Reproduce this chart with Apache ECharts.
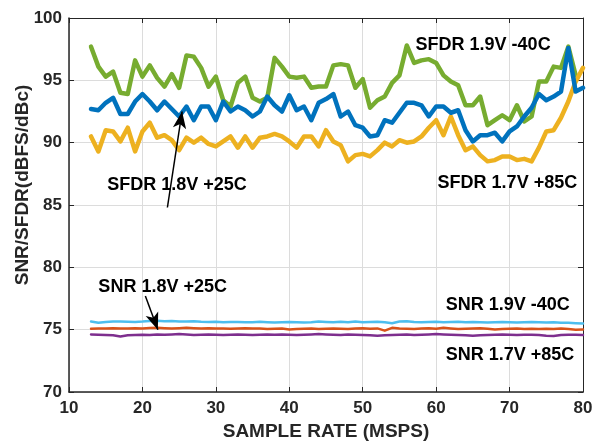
<!DOCTYPE html>
<html>
<head>
<meta charset="utf-8">
<script src="https://cdn.jsdelivr.net/npm/echarts@6/dist/echarts.min.js"></script>
<style>
  html, body { margin:0; padding:0; background:#fff; }
  #chart { width:595px; height:441px; }
</style>
</head>
<body>
<div id="chart"></div>
<script>
// sample rate axis, 13..80 MSPS
const rates = [13,14,15,16,17,18,19,20,21,22,23,24,25,26,27,28,29,30,31,32,33,34,35,36,37,38,39,40,41,42,43,44,45,46,
               47,48,49,50,51,52,53,54,55,56,57,58,59,60,61,62,63,64,65,66,67,68,69,70,71,72,73,74,75,76,77,78,79,80];

// SFDR curves (dBc)
const sfdr19 = [97.7,96.1,95.3,95.7,94.0,93.9,96.6,95.3,96.2,95.2,94.5,95.5,94.4,97.0,96.9,96.0,94.5,95.3,93.4,92.9,94.8,95.3,93.6,93.3,
                93.6,96.8,96.1,95.3,95.2,95.3,94.4,94.5,94.5,96.2,96.3,96.2,94.4,95.1,92.8,93.4,93.7,94.8,95.4,97.8,96.4,96.6,96.7,96.4,
                95.4,94.9,94.6,93.0,93.0,93.7,91.4,91.8,92.2,91.8,93.0,91.7,92.1,94.9,94.9,96.1,96.0,97.7,95.4,null];
const sfdr18 = [92.7,92.6,93.2,93.6,92.3,92.3,93.3,93.9,93.3,92.6,93.3,92.7,92.1,92.9,91.8,92.9,92.9,91.8,93.3,92.5,92.9,92.6,92.1,92.5,
                93.7,93.0,92.5,93.8,92.6,92.9,91.8,93.2,93.5,93.9,92.1,92.5,91.4,91.2,90.5,90.6,91.8,91.6,92.4,93.2,93.2,93.0,92.1,92.9,
                92.9,92.4,92.6,91.0,90.1,90.6,90.6,90.8,90.1,90.9,91.3,92.1,92.8,93.9,93.4,93.7,94.1,97.6,94.1,94.4];
const sfdr17 = [90.5,89.3,91.0,90.9,90.1,91.2,89.3,90.9,91.6,90.4,90.6,90.2,89.4,90.4,90.0,90.4,89.9,89.7,90.1,90.5,89.6,90.5,89.6,90.4,
                90.5,90.7,90.5,90.1,89.6,90.5,90.5,89.7,91.0,90.1,89.8,88.5,89.0,89.1,88.9,89.4,90.0,89.7,90.2,90.0,90.1,90.5,91.2,91.8,
                90.6,92.1,90.6,89.4,89.7,89.0,88.5,88.6,88.9,88.9,88.6,88.7,88.5,89.6,90.9,91.0,92.0,93.3,94.9,96.0];

// SNR curves (dBFS)
const snr19 = [75.65,75.55,75.62,75.65,75.66,75.64,75.62,75.65,75.70,75.72,75.68,75.70,75.66,75.65,75.68,75.64,75.62,75.63,75.60,75.62,
               75.62,75.60,75.60,75.63,75.60,75.58,75.60,75.62,75.60,75.58,75.60,75.65,75.62,75.60,75.63,75.60,75.66,75.60,75.62,75.64,
               75.60,75.52,75.65,75.68,75.62,75.60,75.62,75.64,75.60,75.62,75.64,75.60,75.62,75.60,75.58,75.60,75.62,75.60,75.58,75.60,
               75.62,75.60,75.58,75.60,75.56,75.55,75.52,75.50];
const snr18 = [75.08,75.10,75.10,75.12,75.10,75.10,75.12,75.10,75.13,75.15,75.12,75.10,75.12,75.15,75.12,75.10,75.12,75.10,75.10,75.08,
               75.10,75.12,75.10,75.10,75.05,75.08,75.10,75.02,75.05,75.08,75.10,75.05,75.08,75.10,75.08,75.05,75.10,75.12,75.08,75.10,
               74.92,75.15,75.10,75.08,75.05,75.10,75.12,75.08,75.15,75.10,75.05,75.08,75.10,75.12,75.08,75.02,75.05,75.08,75.10,75.05,
               75.08,75.06,75.08,75.05,75.10,75.05,75.00,75.02];
const snr17 = [74.62,74.60,74.58,74.55,74.45,74.55,74.58,74.60,74.58,74.62,74.60,74.62,74.65,74.62,74.58,74.60,74.62,74.60,74.58,74.60,
               74.62,74.60,74.58,74.60,74.62,74.60,74.62,74.60,74.58,74.60,74.62,74.65,74.62,74.60,74.58,74.62,74.60,74.58,74.55,74.52,
               74.55,74.58,74.60,74.62,74.58,74.60,74.62,74.65,74.62,74.60,74.58,74.55,74.52,74.55,74.58,74.60,74.62,74.60,74.58,74.60,
               74.60,74.58,74.52,74.50,74.58,74.60,74.60,74.58];

// annotation labels: [text, x, y] in data units (left edge, vertical centre)
const notes = [
  ['SFDR 1.9V -40C', 57.2, 97.8],
  ['SFDR 1.8V +25C', 15.2, 86.6],
  ['SFDR 1.7V +85C', 60.2, 86.8],
  ['SNR 1.8V +25C', 14.0, 78.4],
  ['SNR 1.9V -40C', 61.3, 77.0],
  ['SNR 1.7V +85C', 61.3, 73.0]
];
// arrows: [fromX, fromY, toX, toY]
const arrows = [
  [23.4, 84.8, 25.4, 92.5],
  [20.4, 77.7, 22.1, 75.0]
];

const FONT = '"Liberation Sans", Arial, sans-serif';
const INK = '#262626';
const pairs = ys => rates.map((x, i) => [x, ys[i]]);

const chart = echarts.init(document.getElementById('chart'), null, {renderer: 'canvas'});

function line(name, ys, color, width, extra) {
  return Object.assign({
    name, type: 'line', data: pairs(ys), showSymbol: false, symbol: 'none',
    lineStyle: { color, width, join: 'round', cap: 'round' }, z: 3, animation: false
  }, extra || {});
}

const arrowLine = {
  silent: true, animation: false,
  symbol: ['none', 'arrow'], symbolSize: [10, 17],
  lineStyle: { color: '#000', width: 1.5, type: 'solid' },
  label: { show: false },
  data: arrows.map(a => [{ coord: [a[0], a[1]] }, { coord: [a[2], a[3]] }])
};

const axisLbl = { color: INK, fontFamily: FONT, fontWeight: 'bold', fontSize: 17 };
const nameStyle = { color: INK, fontFamily: FONT, fontWeight: 'bold', fontSize: 19 };

chart.setOption({
  backgroundColor: '#fff',
  animation: false,
  grid: { left: 69, right: 12, top: 18, bottom: 49, outerBoundsMode: 'none', containLabel: false },
  xAxis: [
    { type: 'value', min: 10, max: 80, interval: 10,
      name: 'SAMPLE RATE (MSPS)', nameLocation: 'middle', nameGap: 30, nameMoveOverlap: false,
      nameTextStyle: nameStyle,
      axisLine: { lineStyle: { color: INK, width: 1.5 } },
      axisTick: { inside: true, length: 5, lineStyle: { color: INK } },
      axisLabel: Object.assign({ margin: 8 }, axisLbl),
      splitLine: { show: true, lineStyle: { color: '#dcdcdc', width: 1 } } },
    { type: 'value', min: 10, max: 80, interval: 10, position: 'top',
      axisLine: { show: true, lineStyle: { color: INK, width: 1 } },
      axisTick: { inside: true, length: 5, lineStyle: { color: INK } },
      axisLabel: { show: false }, splitLine: { show: false } }
  ],
  yAxis: [
    { type: 'value', min: 70, max: 100, interval: 5,
      name: 'SNR/SFDR(dBFS/dBc)', nameLocation: 'middle', nameGap: 37, nameRotate: 90, nameMoveOverlap: false,
      nameTextStyle: Object.assign({ padding: [0, 0, 0, 40] }, nameStyle),
      axisLine: { show: true, lineStyle: { color: INK, width: 1.5 } },
      axisTick: { show: true, inside: true, length: 5, lineStyle: { color: INK } },
      axisLabel: Object.assign({ margin: 7 }, axisLbl),
      splitLine: { show: true, lineStyle: { color: '#dcdcdc', width: 1 } } },
    { type: 'value', min: 70, max: 100, interval: 5, position: 'right',
      axisLine: { show: true, lineStyle: { color: INK, width: 1 } },
      axisTick: { show: true, inside: true, length: 5, lineStyle: { color: INK } },
      axisLabel: { show: false }, splitLine: { show: false } }
  ],
  series: [
    line('SFDR 1.9V -40C', sfdr19, '#77AC30', 4.5),
    line('SFDR 1.7V +85C', sfdr17, '#EDB120', 4.5),
    line('SFDR 1.8V +25C', sfdr18, '#0072BD', 4.5, { markLine: arrowLine, z: 4 }),
    line('SNR 1.9V -40C', snr19, '#4DBEEE', 2.5),
    line('SNR 1.8V +25C', snr18, '#D95319', 2.5),
    line('SNR 1.7V +85C', snr17, '#7E2F8E', 2.5)
  ]
});

// place annotation text through the chart's own coordinate conversion
chart.setOption({
  graphic: notes.map(n => {
    const p = chart.convertToPixel({ gridIndex: 0 }, [n[1], n[2]]);
    return {
      type: 'text', x: p[0], y: p[1], z: 10,
      style: { text: n[0], fill: '#000', font: 'bold 18px ' + FONT, verticalAlign: 'middle' }
    };
  })
});
</script>
</body>
</html>
